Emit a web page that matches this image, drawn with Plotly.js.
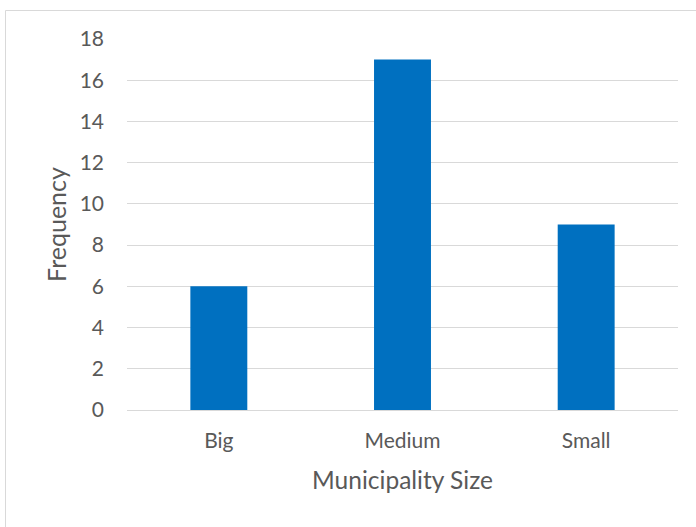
<!DOCTYPE html>
<html>
<head>
<meta charset="utf-8">
<script src="https://cdn.plot.ly/plotly-3.0.1.min.js"></script>
<style>
html,body{margin:0;padding:0;background:#fff;}
#chart{width:696px;height:527px;}
</style>
</head>
<body>
<div id="chart"></div>
<script>
var categories = ["Big", "Medium", "Small"];
var frequency = [6, 17, 9];
var yTicks = [0, 2, 4, 6, 8, 10, 12, 14, 16, 18];

var font = "Lato, 'Open Sans', sans-serif";
var data = [{
  type: "bar",
  x: categories,
  y: frequency,
  marker: {color: "#0070C0"},
  hoverinfo: "x+y"
}];

var layout = {
  width: 696,
  height: 527,
  margin: {l: 127, r: 18, t: 39, b: 117},
  paper_bgcolor: "#fff",
  plot_bgcolor: "#fff",
  bargap: 0.69,
  showlegend: false,
  font: {family: font, color: "#595959", size: 16},
  xaxis: {
    type: "category",
    showgrid: false,
    showline: false,
    zeroline: false,
    ticks: "",
    ticklabelstandoff: 16,
    tickfont: {family: font, size: 21, color: "#595959"},
    title: {text: "Municipality Size", font: {family: font, size: 24.5, color: "#595959"}, standoff: 20}
  },
  yaxis: {
    range: [0, 18],
    tickvals: yTicks,
    ticktext: yTicks.map(String),
    showgrid: true,
    gridcolor: "#d9d9d9",
    gridwidth: 1,
    zeroline: true,
    zerolinecolor: "#d9d9d9",
    zerolinewidth: 1,
    showline: false,
    ticks: "",
    ticklabelstandoff: 22,
    tickfont: {family: font, size: 21, color: "#595959"},
    title: {text: "Frequency", font: {family: font, size: 25, color: "#595959"}, standoff: 5}
  },
  shapes: [{
    type: "rect",
    xref: "paper", yref: "paper",
    x0: (5.5 - 127) / 551, x1: 1.2,
    y0: -0.5, y1: 1 + (39 - 10.5) / 371,
    line: {color: "#d9d9d9", width: 1},
    fillcolor: "rgba(0,0,0,0)",
    layer: "below"
  }]
};

Plotly.newPlot("chart", data, layout, {displayModeBar: false, staticPlot: true});
</script>
</body>
</html>
